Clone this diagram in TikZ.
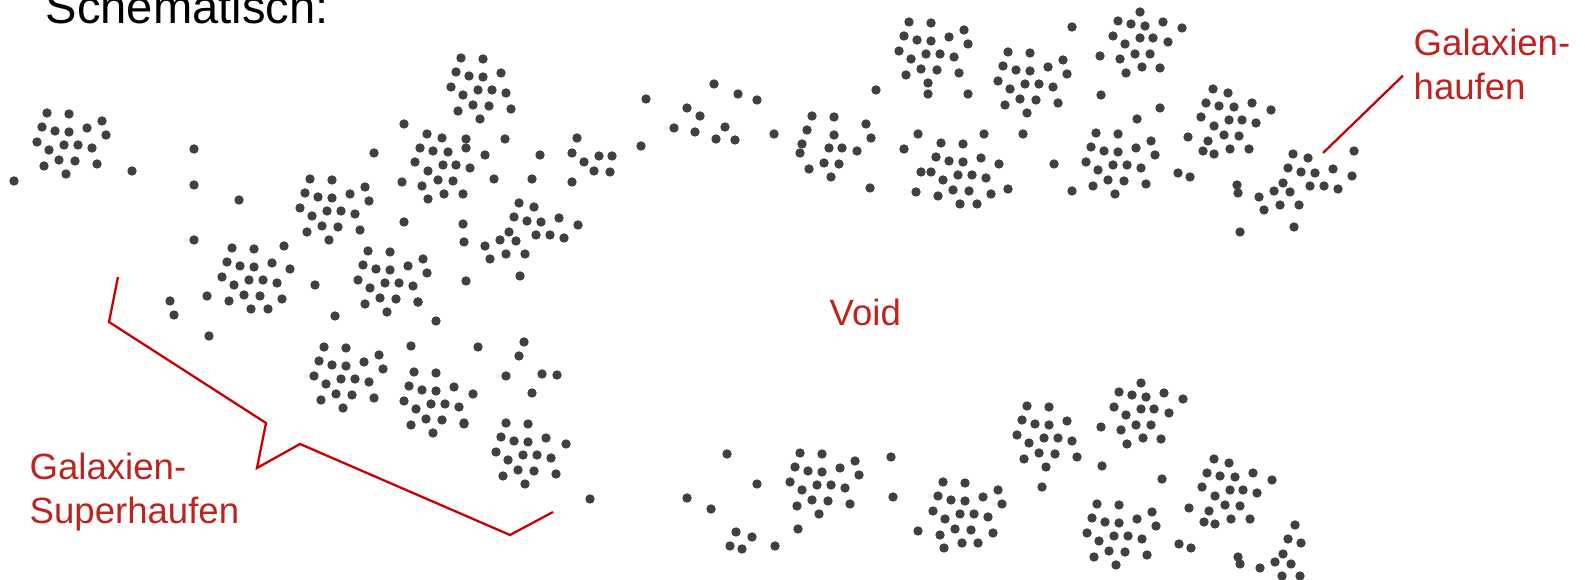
\documentclass[tikz,border=0pt]{standalone}
\usepackage{fontspec}
\setmainfont{Liberation Sans}

\definecolor{galgray}{HTML}{404040}
\definecolor{labred}{RGB}{190,35,30}
\definecolor{linered}{RGB}{200,0,0}

\tikzset{
  galaxy/.style={fill=galgray},
  lbl/.style={text=labred, inner sep=0pt, align=left,
    font=\fontsize{10.4}{12.5}\selectfont},
  pointer/.style={draw=linered, line width=0.65pt, line join=miter},
}

% dot offsets of the cluster shapes (px, y pointing down)
\def\patA{-23/-32,-1/-31,-28/-18,-15/-14,-1/-13,17/-17,-33/-3,-21/5,-6/0,8/0,22/3,-26/21,-11/15,5/16,27/19,-4/29}
\def\patAx{32/-24,36/-10}
\def\patB{-23/-32,-8/-28,-28/-18,-15/-14,-1/-13,17/-17,36/-10,-33/-3,-26/6,-6/0,8/0,22/3,-42/5,-57/11,-52/24,-36/19,-17/19,-22/41,-78/7,-76/46}
\def\patC{0/-32,-22/-23,-9/-20,5/-18,23/-22,42/-16,-27/-8,-15/0,0/-6,13/-6,28/-2,-40/12,-20/15,-5/10,10/10,-14/29,2/23,20/24}
\def\patD{-23/-32,-8/-28,-30/-18,-17/-15,-2/-14,16/-18,35/-11,-35/-4,-22/5,-7/-1,6/-1,20/2,-28/20,-12/14,3/15,-22/33,-6/28,13/28}

% one cluster of galaxies: shape, x, y
\newcommand{\galgroup}[3]{%
  \begin{scope}[shift={(#2,#3)}]
    \foreach \dx/\dy in #1 {\fill[galaxy] (\dx,\dy) circle[radius=0.47mm];}
  \end{scope}}
% loose galaxies
\newcommand{\galdots}[1]{%
  \foreach \px/\py in {#1} {\fill[galaxy] (\px,\py) circle[radius=0.47mm];}}

\begin{document}
\begin{tikzpicture}[x=0.01cm, y=-0.01cm]
  \useasboundingbox (0,0) rectangle (1585,580);
  \clip (0,0) rectangle (1585,580);

  \node[anchor=base west, inner sep=0pt, font=\fontsize{13.4}{16}\selectfont] (title) at (45,24) {Schematisch:};

  % clusters
  \galgroup{\patA}{70}{145}   \galgroup{\patAx}{70}{145}
  \galgroup{\patA}{484}{90}
  \galgroup{\patA}{333}{211}  \galgroup{\patAx}{333}{211}
  \galgroup{\patA}{255}{280}
  \galgroup{\patA}{391}{283}  \galgroup{\patAx}{391}{283}
  \galgroup{\patA}{932}{54}   \galgroup{\patAx}{932}{54}
  \galgroup{\patA}{1031}{84}  \galgroup{\patAx}{1031}{84}
  \galgroup{\patA}{964}{175}
  \galgroup{\patA}{1119}{165} \galgroup{\patAx}{1119}{165}
  \galgroup{\patA}{347}{379}  \galgroup{\patAx}{347}{379}
  \galgroup{\patA}{437}{404}
  \galgroup{\patA}{529}{455}
  \galgroup{\patA}{823}{485}  \galgroup{\patAx}{823}{485}
  \galgroup{\patA}{966}{514}  \galgroup{\patAx}{966}{514}
  \galgroup{\patA}{1050}{438}
  \galgroup{\patA}{1120}{536} \galgroup{\patAx}{1120}{536}
  \galgroup{\patB}{542}{235}
  \galgroup{\patB}{1316}{186}
  \galgroup{\patC}{1140}{44}
  \galgroup{\patC}{1141}{415}
  \galgroup{\patD}{450}{166}
  \galgroup{\patD}{1236}{121}
  \galgroup{\patD}{1237}{491}

  % sparse group near the top middle
  \galdots{812/116,834/117,807/130,834/135,802/144,800/153,829/148,842/148,857/151,
    824/163,839/164,809/169,831/177,866/124,871/138,870/188}

  % loose galaxies, upper half
  \galdots{14/181,132/171,194/149,194/185,239/200,194/240,374/153,284/246,290/269,
    315/285,404/124,402/182,404/222,463/224,466/139,494/179,505/139,540/155,532/179,
    577/138,572/153,584/162,599/156,612/156,594/171,610/172,572/182,646/99,641/146,
    687/108,700/116,674/128,695/132,714/84,738/94,757/100,725/127,716/139,735/140,
    774/134,876/90,928/94,968/94,1072/27,1101/95,1160/108,1137/119,918/134,904/149,
    984/134,999/164,1008/189,1023/134,1054/164,1072/191,921/172,916/192,977/204,
    1178/173,1190/177,1188/137,1203/151,1237/185,1354/151}

  % loose galaxies, lower half
  \galdots{170/301,174/315,209/336,207/296,335/316,268/309,418/302,436/321,411/346,
    478/347,464/424,473/394,524/342,519/356,506/376,542/374,557/375,532/393,566/444,
    590/499,687/498,711/509,727/454,757/484,736/532,752/537,730/546,742/549,775/546,
    798/529,891/457,893/497,918/531,944/548,978/543,1042/487,1102/466,1162/479,
    1179/544,1191/548,1189/508,1204/522,1238/557,1240/564,1260/568,1295/525,1288/539,
    1301/543,1283/554,1275/562,1291/564,1282/576,1300/576}

  % labels
  \node[lbl, anchor=base west] (void) at (829,326) {Void};
  \node[lbl, anchor=north west] (haufen) at (1413,28.5) {Galaxien-\\haufen};
  \node[lbl, anchor=north west] (superhaufen) at (29,452) {Galaxien-\\Superhaufen};

  % pointer to one cluster
  \coordinate (haufenTip) at (1323,153);
  \draw[pointer] ([shift={(-10,11)}]haufen.west) -- (haufenTip);

  % bracket round the supercluster
  \coordinate (brTop) at (118,277);
  \coordinate (brEnd) at (553,512);
  \draw[pointer] (brTop) -- (109,322) -- (266,423) -- (257,468) -- (300,444)
    -- (510,535) -- (brEnd);
\end{tikzpicture}
\end{document}
